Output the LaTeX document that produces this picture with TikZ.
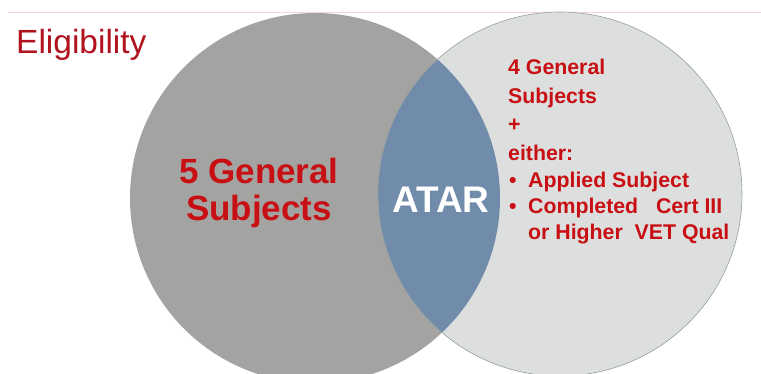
\documentclass[tikz,border=0pt]{standalone}
\usepackage{fontspec}
\setmainfont{Liberation Sans}
\usepackage{tikz}
\usetikzlibrary{positioning}

\definecolor{slidered}{RGB}{176,18,30}
\definecolor{boldred}{RGB}{200,16,20}
\definecolor{leftgray}{RGB}{163,163,161}
\definecolor{rightgray}{RGB}{221,222,222}
\definecolor{rimgray}{RGB}{150,160,160}
\definecolor{lensblue}{RGB}{112,140,170}
\definecolor{linepink}{RGB}{246,214,216}

\begin{document}
\begin{tikzpicture}[x=1pt, y=-1pt]
    % Define styles
    \tikzset{
        bigtxt/.style={text=boldred, font=\fontsize{35}{38}\selectfont\bfseries, inner sep=0pt, anchor=base},
        listtxt/.style={text=boldred, font=\fontsize{21.3}{26}\selectfont\bfseries, inner sep=0pt, anchor=base west}
    }
    \useasboundingbox (0,0) rectangle (761,373);
    \fill[white] (0,0) rectangle (761,373);
    \draw[linepink, line width=0.8pt] (8,12) -- (761,12);

    % Circles
    \fill[leftgray] (315,198) circle (185);
    \fill[rightgray] (560,194) circle (182);
    \begin{scope}
        \clip (315,198) circle (185);
        \fill[lensblue] (560,194) circle (182);
    \end{scope}
    \draw[rimgray, line width=0.6pt] (560,194) circle (182);

    % Title
    \node[text=slidered, font=\fontsize{33.5}{36}\selectfont, inner sep=0pt, anchor=base west] (title) at (16,53) {Eligibility};

    % Left set
    \node[bigtxt] (gen5) at (259,183) {5 General};
    \node[bigtxt] (subj5) at (259,220) {Subjects};

    % Overlap
    \node[text=white, font=\fontsize{37}{40}\selectfont\bfseries, inner sep=0pt, anchor=base] (atar) at (441,212) {ATAR};

    % Right set
    \node[listtxt] (gen4) at (508,74) {4 General};
    \node[listtxt] (subj4) at (508,103) {Subjects};
    \node[listtxt] (plus) at (508,131) {+};
    \node[listtxt] (either) at (508,160) {either:};
    \node[listtxt] (bulA) at (509,187) {\textbullet};
    \node[listtxt] (applied) at (528,187) {Applied Subject};
    \node[listtxt] (bulB) at (509,213) {\textbullet};
    \node[listtxt] (cert) at (528,213) {Completed\ \ \ Cert III};
    \node[listtxt] (vet) at (528,239) {or Higher\ \ VET Qual};
\end{tikzpicture}
\end{document}
